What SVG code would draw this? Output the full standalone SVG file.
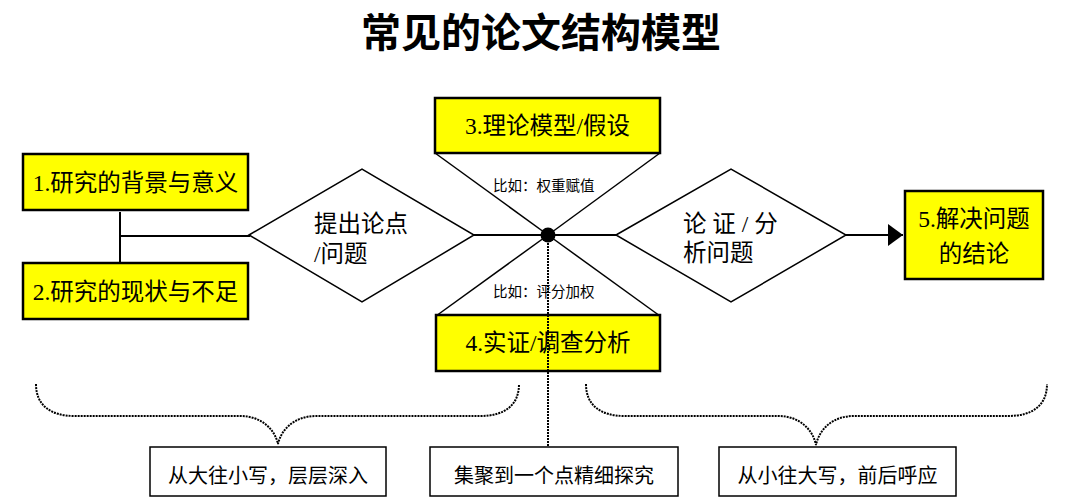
<svg xmlns="http://www.w3.org/2000/svg" width="1068" height="502" viewBox="0 0 1068 502">
<defs>
<style>
.box{fill:#ffff00;stroke:#000;stroke-width:2.5}
.wbox{fill:#fff;stroke:#000;stroke-width:1.5}
.dia{fill:#fff;stroke:#000;stroke-width:1.5}
.ln{fill:none;stroke:#000;stroke-width:2}
.thin{fill:none;stroke:#000;stroke-width:1.5}
.dot{fill:none;stroke:#000;stroke-width:2;stroke-dasharray:2 1}
.t{font-family:"Liberation Serif","Noto Sans CJK SC",serif;font-size:23.5px;fill:#000}
.s{font-family:"Liberation Serif","Noto Sans CJK SC",serif;font-size:14.5px;fill:#000}
.b{font-family:"Liberation Serif","Noto Sans CJK SC",serif;font-size:20px;fill:#000;text-anchor:middle}
.c{text-anchor:middle}
</style>
<marker id="arr" markerWidth="16" markerHeight="22" refX="15" refY="11" orient="auto" markerUnits="userSpaceOnUse">
<path d="M0,0 L15,11 L0,22 Z" fill="#000"/>
</marker>
</defs>
<rect width="1068" height="502" fill="#fff"/>
<text x="541" y="47" text-anchor="middle" font-family="'Noto Sans CJK SC',sans-serif" font-weight="bold" font-size="40">常见的论文结构模型</text>

<g id="connectors">
<line class="ln" x1="120" y1="212" x2="120" y2="263"/>
<line class="ln" x1="120" y1="236" x2="250" y2="236"/>
<line class="ln" x1="474" y1="235" x2="616" y2="235"/>
<line class="thin" x1="435" y1="153" x2="548" y2="235"/>
<line class="thin" x1="660" y1="153" x2="548" y2="235"/>
<line class="thin" x1="436" y1="316" x2="548" y2="235"/>
<line class="thin" x1="660" y1="316" x2="548" y2="235"/>
<line class="ln" x1="846" y1="235" x2="903" y2="235" marker-end="url(#arr)"/>
</g>

<g id="n1"><rect class="box" x="23" y="154" width="225" height="56"/><text class="t c" x="135.5" y="191">1.研究的背景与意义</text></g>
<g id="n2"><rect class="box" x="23" y="263" width="225" height="56"/><text class="t c" x="135.5" y="300">2.研究的现状与不足</text></g>
<g id="d1"><polygon class="dia" points="249,235 362,169 474,235 362,302"/><text class="t" x="314" y="232">提出论点</text><text class="t" x="314" y="262">/问题</text></g>
<g id="n3"><rect class="box" x="435" y="98" width="225" height="55"/><text class="t c" x="547.5" y="134">3.理论模型/假设</text></g>
<g id="n4"><rect class="box" x="436" y="315" width="224" height="56"/><text class="t c" x="548" y="351">4.实证/调查分析</text></g>
<g id="lab3"><text class="s" x="493" y="191">比如：权重赋值</text></g>
<g id="lab4"><text class="s" x="493" y="297">比如：评分加权</text></g>
<g id="center"><circle cx="548" cy="235" r="7.5" fill="#000"/></g>
<g id="d2"><polygon class="dia" points="616,235 731,169 846,235 731,302"/><text class="t" x="683" y="232" xml:space="preserve">论 证 / 分</text><text class="t" x="683" y="261">析问题</text></g>
<g id="n5"><rect class="box" x="905" y="191" width="138" height="88"/><text class="t c" x="974" y="227">5.解决问题</text><text class="t c" x="974" y="262">的结论</text></g>

<g id="notes">
<line class="dot" x1="548" y1="243" x2="548" y2="446"/>
<path class="dot" d="M36,384 C36,405 50,416 75,416 L240,416 C262,416 275,430 278,444 C281,430 294,416 316,416 L480,416 C505,416 519,405 519,384"/>
<path class="dot" d="M586,384 C586,405 600,416 625,416 L778,416 C800,416 813,430 816,445 C819,430 832,416 854,416 L1008,416 C1033,416 1047,405 1047,384"/>
</g>
<g id="b1"><rect class="wbox" x="150" y="447" width="236" height="49"/><text class="b" x="268" y="483">从大往小写，层层深入</text></g>
<g id="b2"><rect class="wbox" x="430" y="447" width="248" height="49"/><text class="b" x="554" y="483">集聚到一个点精细探究</text></g>
<g id="b3"><rect class="wbox" x="719" y="447" width="237" height="49"/><text class="b" x="837.5" y="483">从小往大写，前后呼应</text></g>
</svg>
